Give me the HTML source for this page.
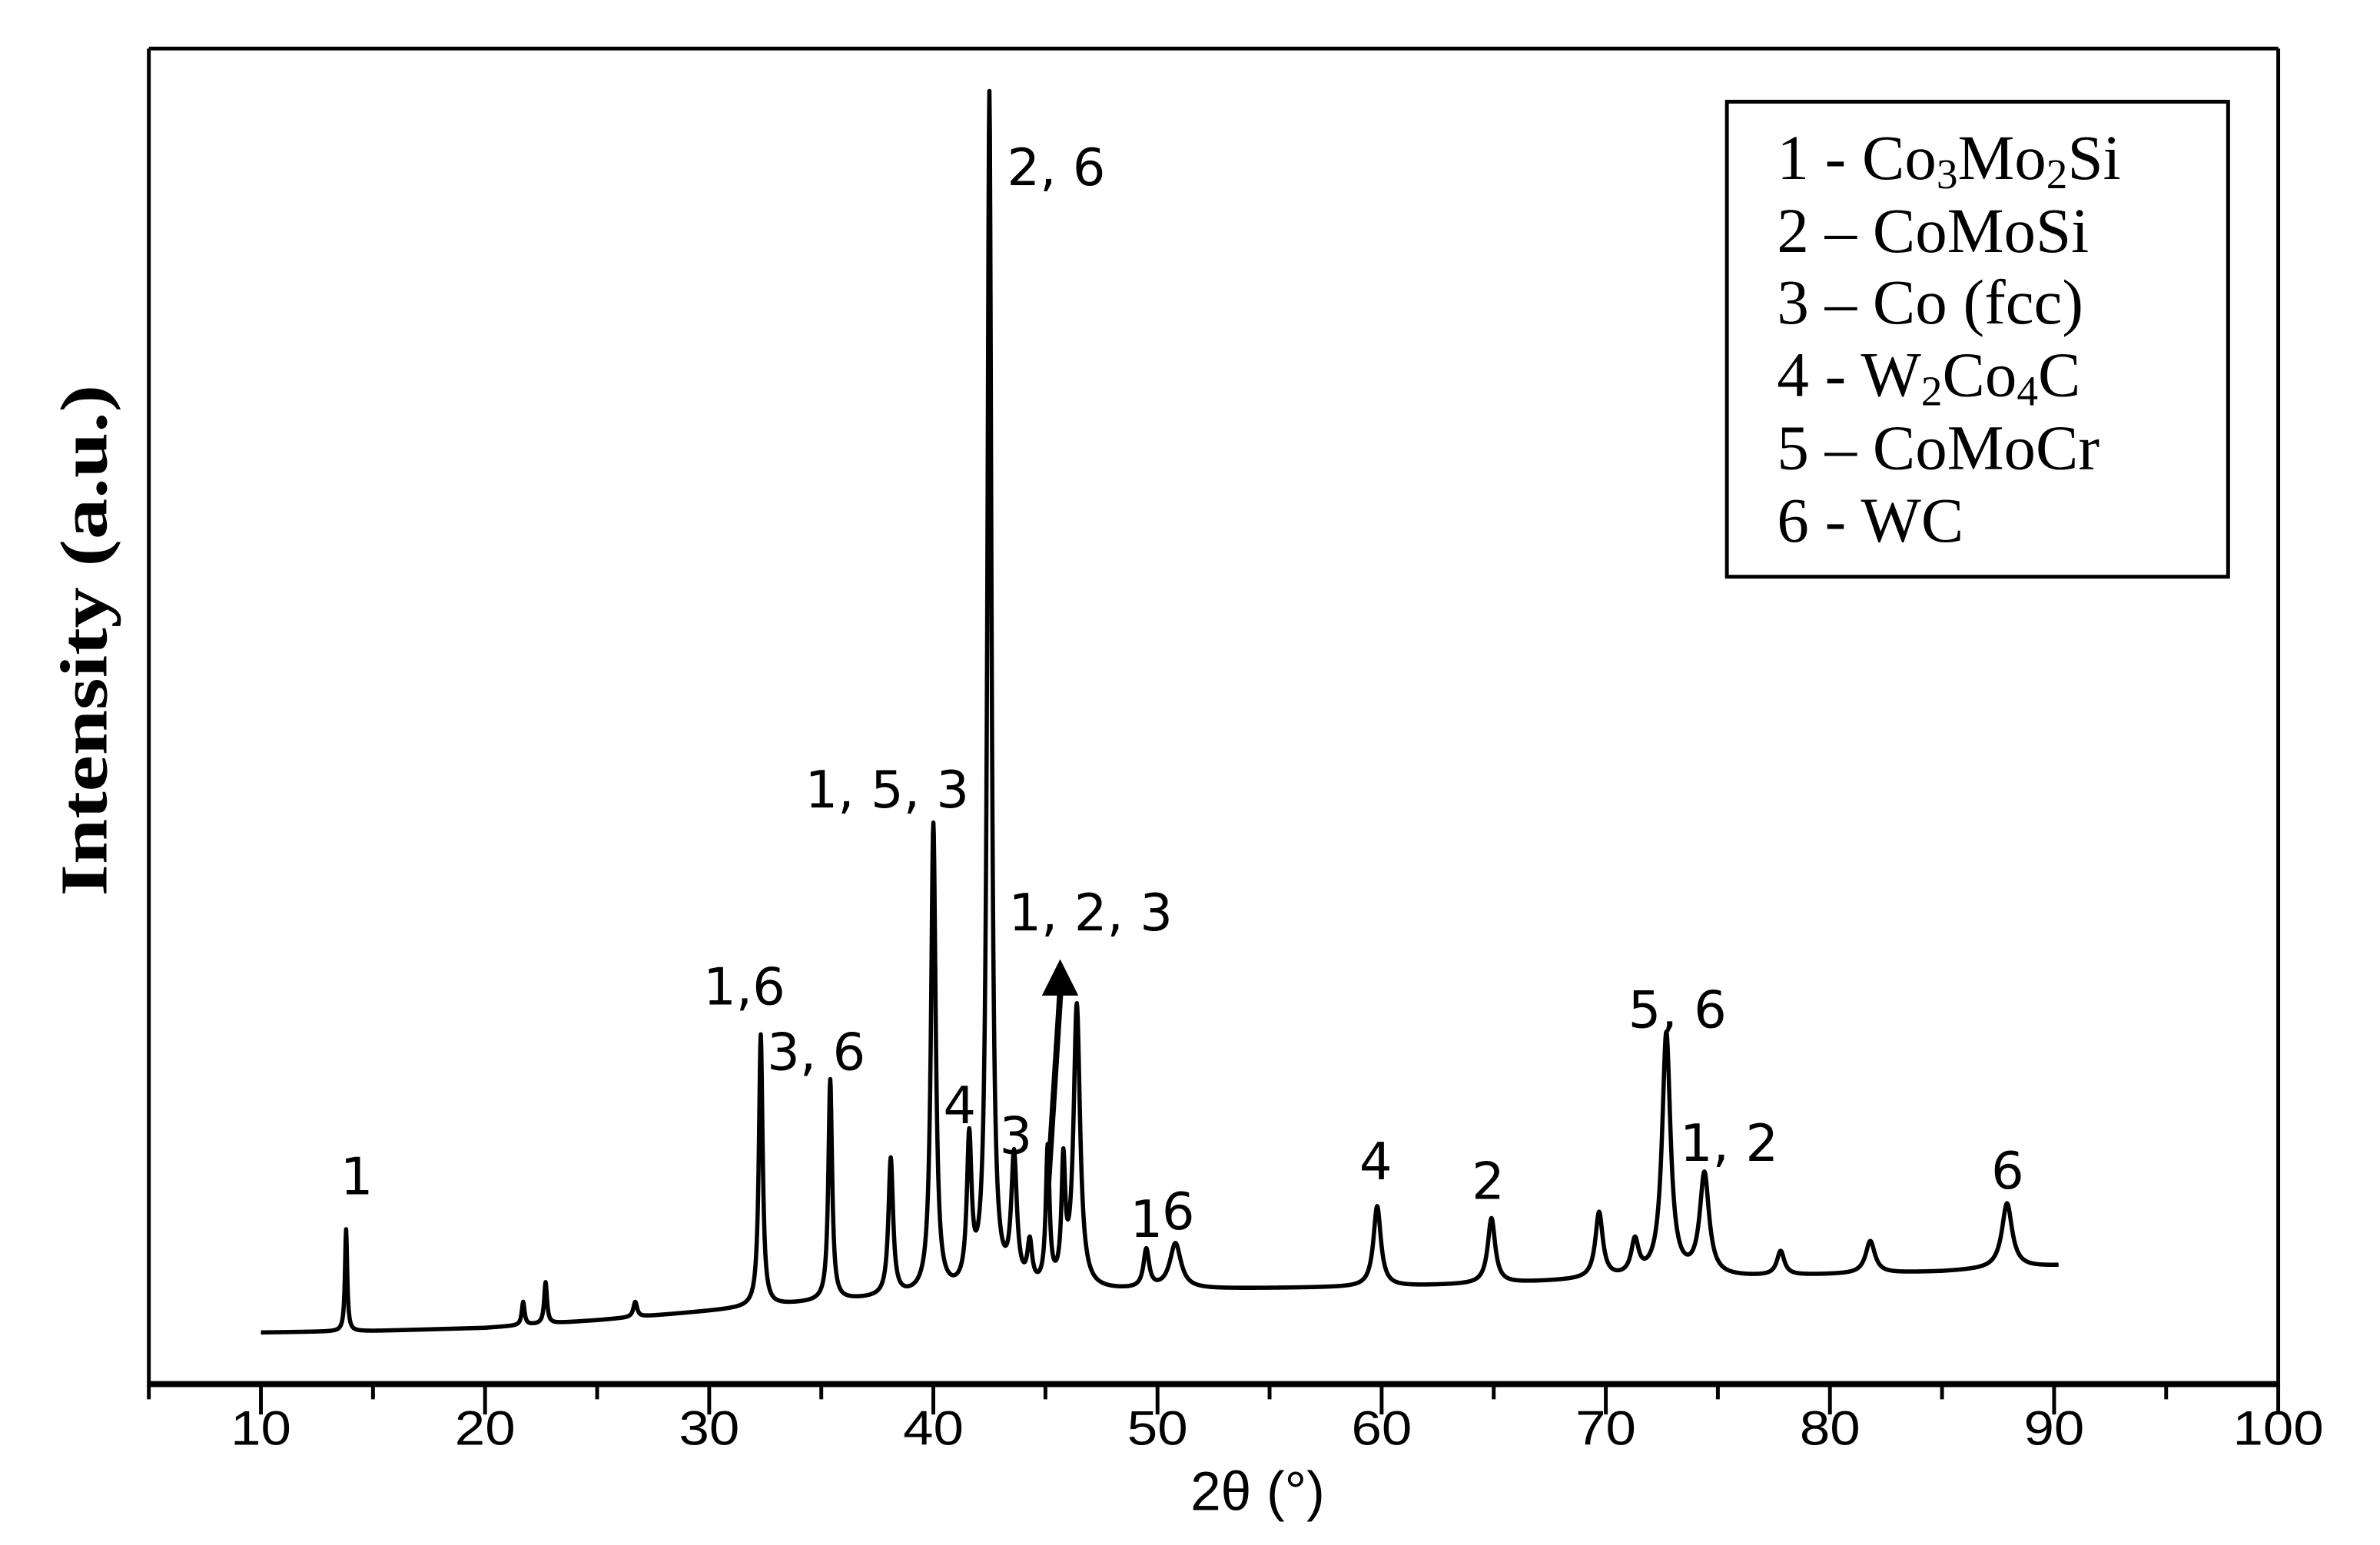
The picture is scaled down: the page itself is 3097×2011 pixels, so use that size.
<!DOCTYPE html>
<html><head><meta charset="utf-8"><style>
html,body{margin:0;padding:0;background:#fff}
svg{display:block}
</style></head><body>
<svg id="chart" width="3097" height="2011" viewBox="0 0 1567 1018" preserveAspectRatio="none" xmlns="http://www.w3.org/2000/svg">
<rect x="0" y="0" width="1567" height="1018" fill="#fff"/>
<g id="frame">
<line x1="98" y1="32" x2="1500" y2="32" stroke="#000" stroke-width="2.5"/>
<line x1="98" y1="32" x2="98" y2="914" stroke="#000" stroke-width="2.5"/>
<line x1="1500" y1="32" x2="1500" y2="914" stroke="#000" stroke-width="2.5"/>
<line x1="97" y1="912" x2="1501" y2="912" stroke="#000" stroke-width="4"/>
</g>
<g id="ticks"></g>
<g id="ticklabels" font-family="Liberation Sans, sans-serif" font-size="32" text-anchor="middle" transform="scale(1.12,1)"></g>
<text x="828" y="995" font-family="Liberation Sans, sans-serif" font-size="36" text-anchor="middle">2θ (°)</text>
<text transform="translate(70,422) rotate(-90)" font-family="Liberation Serif, serif" font-weight="bold" font-size="44" text-anchor="middle" textLength="337" lengthAdjust="spacingAndGlyphs">Intensity (a.u.)</text>
<path id="curve" fill="none" stroke="#000" stroke-width="2.8" stroke-linejoin="round"/>
<g>
<rect x="1137" y="67" width="330" height="313" fill="#fff" stroke="#000" stroke-width="2.5"/>
<g font-family="Liberation Serif, serif" font-size="42">
<text x="1170" y="118">1 - Co<tspan font-size="28" dy="6">3</tspan><tspan dy="-6">Mo</tspan><tspan font-size="28" dy="6">2</tspan><tspan dy="-6">Si</tspan></text>
<text x="1170" y="166">2 – CoMoSi</text>
<text x="1170" y="213">3 – Co (fcc)</text>
<text x="1170" y="261">4 - W<tspan font-size="28" dy="6">2</tspan><tspan dy="-6">Co</tspan><tspan font-size="28" dy="6">4</tspan><tspan dy="-6">C</tspan></text>
<text x="1170" y="309">5 – CoMoCr</text>
<text x="1170" y="357">6 - WC</text>
</g>
</g>
<g font-family="DejaVu Sans, Liberation Sans, sans-serif" font-size="34">
<text x="224" y="787">1</text>
<text x="463" y="662">1,6</text>
<text x="505" y="705">3, 6</text>
<text x="530" y="532">1, 5, 3</text>
<text x="621" y="740">4</text>
<text x="663" y="122">2, 6</text>
<text x="664" y="613">1, 2, 3</text>
<text x="658" y="760">3</text>
<text x="744" y="815">1</text>
<text x="765" y="810">6</text>
<text x="895" y="777">4</text>
<text x="969" y="790">2</text>
<text x="1072" y="677">5, 6</text>
<text x="1106" y="765">1, 2</text>
<text x="1311" y="783">6</text>
</g>
<g>
<line x1="690" y1="782" x2="698" y2="655" stroke="#000" stroke-width="4"/>
<polygon points="698,632 686,656 710,656" fill="#000"/>
</g>
</svg>
<script>
var xTicks=[10,20,30,40,50,60,70,80,90,100];
var minorTicks=[5,15,25,35,45,55,65,75,85,95];
var baseX=[10,15,20,25,30,35,40,45,50,55,60,65,70,75,80,85,90.2];
var baseI=[34,35,37,42,48,54,58,60,62,63,64,66,69,70,72,74,78];
var peakPos=[13.8,21.7,22.7,26.7,32.3,35.4,38.1,40.0,41.6,42.5,43.6,44.3,45.1,45.8,46.4,49.5,50.8,59.8,64.9,69.7,71.3,72.7,74.4,77.8,81.8,87.9];
var peakInt=[102,54,67,54,230,200,147,367,154,847,144,87,150,137,247,87,92,117,109,112,92,230,137,87,94,119];
var peakW=[0.12,0.15,0.15,0.2,0.2,0.2,0.25,0.25,0.25,0.22,0.3,0.25,0.2,0.2,0.35,0.3,0.6,0.4,0.4,0.4,0.4,0.45,0.5,0.4,0.5,0.55];
function xs(v){return 98+(v-5)*(1402/95);}
function ys(v){return 912-v;}
var NS="http://www.w3.org/2000/svg";
var tg=document.getElementById('ticks'),lg=document.getElementById('ticklabels');
xTicks.forEach(function(t){
 var l=document.createElementNS(NS,'line');
 
 
 l.setAttribute('x1',xs(t));l.setAttribute('x2',xs(t));l.setAttribute('y1',912);l.setAttribute('y2',932);
 l.setAttribute('stroke','#000');l.setAttribute('stroke-width','2.5');tg.appendChild(l);
 var tx=document.createElementNS(NS,'text');
 
 
 tx.setAttribute('x',xs(t)/1.12);tx.setAttribute('y',952);tx.textContent=t;lg.appendChild(tx);
});
minorTicks.forEach(function(t){
 var l=document.createElementNS(NS,'line');
 
 
 l.setAttribute('x1',xs(t));l.setAttribute('x2',xs(t));l.setAttribute('y1',912);l.setAttribute('y2',922);
 l.setAttribute('stroke','#000');l.setAttribute('stroke-width','2.5');tg.appendChild(l);
});
function base(x){
 for(var i=0;i<baseX.length-1;i++){if(x<=baseX[i+1]){var f=(x-baseX[i])/(baseX[i+1]-baseX[i]);return baseI[i]+f*(baseI[i+1]-baseI[i]);}}
 return baseI[baseI.length-1];
}
function val(x){
 var v=base(x);
 for(var k=0;k<peakPos.length;k++){
  var h=peakInt[k]-base(peakPos[k]);var d=(x-peakPos[k])/(peakW[k]/2);
  v+=h/(1+d*d);
 }
 return v;
}
var d='';
for(var x=10;x<=90.2;x+=0.02){
 d+=(d?'L':'M')+xs(x).toFixed(2)+','+ys(val(x)).toFixed(2);
}
document.getElementById('curve').setAttribute('d',d);
</script>
</body></html>
